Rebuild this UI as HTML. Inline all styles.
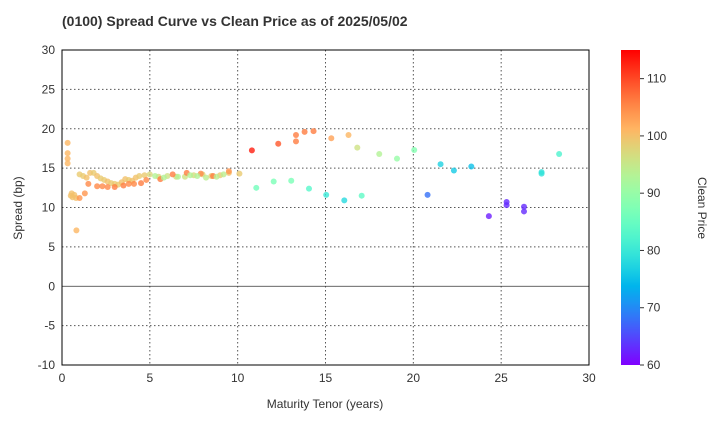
<!DOCTYPE html>
<html><head><meta charset="utf-8"><style>
body{margin:0;background:#fff;font-family:"Liberation Sans",Arial,sans-serif;}
svg text{font-family:"Liberation Sans",Arial,sans-serif;}
</style></head><body>
<svg id="chart" width="720" height="420">
<defs><linearGradient id="jet" x1="0" y1="1" x2="0" y2="0"></linearGradient></defs>
<text x="62" y="26" font-size="14" font-weight="bold" fill="#333">(0100)   Spread Curve vs Clean Price as of 2025/05/02</text>
<g id="grid"></g><g id="pts"></g>
<rect x="62" y="50" width="527" height="315" fill="none" stroke="#000"/>
<text x="325" y="408" font-size="12" text-anchor="middle" fill="#333">Maturity Tenor (years)</text>
<text x="22" y="208" font-size="12" text-anchor="middle" fill="#333" transform="rotate(-90 22 208)">Spread (bp)</text>
<rect x="621" y="50" width="19" height="315" fill="url(#jet)"/>
<g id="cb"></g>
<text x="698" y="208" font-size="12" text-anchor="middle" fill="#333" transform="rotate(90 698 208)">Clean Price</text>
</svg>
<script>
const xTicks=[0,5,10,15,20,25,30];
const yTicks=[-10,-5,0,5,10,15,20,25,30];
const cbTicks=[60,70,80,90,100,110];
const tenors=[0.32,0.32,0.32,0.32,0.82,0.5,0.55,0.6,0.7,0.8,1.0,1.3,1.0,1.2,1.4,1.6,1.8,2.0,2.2,2.4,2.6,2.8,3.0,3.2,3.4,3.6,3.8,4.0,4.2,4.4,4.7,5.0,5.5,6.0,6.5,7.0,7.5,8.0,8.5,9.0,9.5,10.1,1.5,2.0,2.3,2.6,3.0,3.5,3.8,4.1,4.5,4.8,5.6,6.3,7.1,7.9,8.6,9.5,5.3,5.8,6.6,7.3,7.7,8.2,8.8,9.2,10.81,12.31,13.32,13.32,13.81,14.32,15.33,16.31,16.81,18.06,19.07,20.05,21.55,22.31,23.3,28.3,27.3,27.3,11.06,12.05,13.05,14.06,15.04,16.07,17.06,20.81,25.31,25.31,26.3,26.3,24.3];
const spreads=[18.2,16.9,16.2,15.6,7.1,11.5,11.8,11.3,11.6,11.2,11.2,11.8,14.2,14.0,13.8,14.4,14.4,14.0,13.7,13.5,13.3,13.1,13.0,12.9,13.2,13.6,13.5,13.4,13.8,14.0,14.1,14.2,13.9,14.0,13.9,13.9,14.1,14.2,14.0,14.1,14.4,14.3,13.0,12.7,12.7,12.6,12.6,12.8,13.0,13.0,13.1,13.5,13.6,14.2,14.4,14.3,14.0,14.6,14.0,13.8,13.9,14.1,14.0,13.8,13.9,14.2,17.26,18.1,19.2,18.4,19.6,19.7,18.8,19.2,17.6,16.8,16.2,17.3,15.5,14.7,15.2,16.8,14.5,14.3,12.5,13.3,13.4,12.4,11.6,10.9,11.5,11.6,10.7,10.3,10.1,9.5,8.9];
const prices=[101,101,101,101,101,100,100,100,100,100,104,104,99,99,100,100,99,100,99,99,100,99,99,99,100,100,99,100,100,99,99,97,97,96,97,96,97,98,99,99,100,99,105,105,105,105,106,106,105,105,106,105,106,106,106,105,106,104,93,93,93,93,93,94,94,94,113,109,106,106,106,106,103,101,96,93,90,88,77,76,75,82,79,79,86,87,87,83,80,78,84,68,63,63,63,63,62];
const NS='http://www.w3.org/2000/svg';
const X=v=>62+v*527/30, Y=v=>365-(v+10)*315/40, CB=v=>365-(v-60)*315/55;
function rb(t){t=Math.max(0,Math.min(1,t));
 const cl=x=>Math.round(255*Math.max(0,Math.min(1,x)));
 return [cl(Math.abs(2*t-0.5)),cl(Math.sin(Math.PI*t)),cl(Math.cos(Math.PI*t/2))];}
function col(p){const c=rb((p-60)/55);return `rgb(${c[0]},${c[1]},${c[2]})`;}
function mk(t,a){const e=document.createElementNS(NS,t);for(const k in a)e.setAttribute(k,a[k]);return e;}
const grad=document.getElementById('jet');
for(let i=0;i<=20;i++){const c=rb(i/20);grad.appendChild(mk('stop',{offset:i/20,'stop-color':`rgb(${c[0]},${c[1]},${c[2]})`}));}
const grid=document.getElementById('grid'),pts=document.getElementById('pts'),cb=document.getElementById('cb');
xTicks.forEach(v=>{
 if(v>0&&v<30){const l=mk('line',{x1:X(v),x2:X(v),y1:50,y2:365,stroke:'#555','stroke-dasharray':'1.5,2.5'});
 
 grid.appendChild(l);}
 const t=mk('text',{x:X(v),y:382,'font-size':12,'text-anchor':'middle',fill:'#333'});t.textContent=v;
 
 grid.appendChild(t);});
yTicks.forEach(v=>{
 if(v>-10&&v<30){const l=mk('line',{x1:62,x2:589,y1:Y(v),y2:Y(v),stroke:v===0?'#333':'#555','stroke-dasharray':v===0?'':'1.5,2.5','stroke-width':v===0?0.8:1});
 
 grid.appendChild(l);}
 const t=mk('text',{x:55,y:Y(v)+4,'font-size':12,'text-anchor':'end',fill:'#333'});t.textContent=v;
 
 grid.appendChild(t);});
cbTicks.forEach(v=>{
 const l=mk('line',{x1:640,x2:644,y1:CB(v),y2:CB(v),stroke:'#333'});
 
 cb.appendChild(l);
 const t=mk('text',{x:647,y:CB(v)+4,'font-size':12,fill:'#333'});t.textContent=v;
 
 cb.appendChild(t);});
tenors.forEach((v,i)=>{
 const c=mk('circle',{cx:X(v),cy:Y(spreads[i]),r:3,fill:col(prices[i]),'fill-opacity':0.8});
 
 pts.appendChild(c);});
</script>
</body></html>
